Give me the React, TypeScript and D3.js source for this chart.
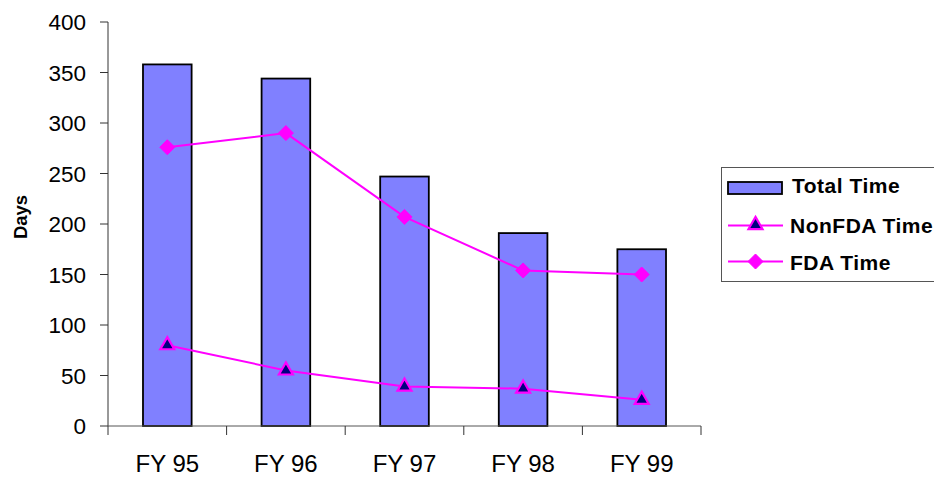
import React from "react";
import * as d3 from "d3";

const categories = ["FY 95", "FY 96", "FY 97", "FY 98", "FY 99"];
const totalTime = [358, 344, 247, 191, 175];
const nonFdaTime = [80, 55, 39, 37, 26];
const fdaTime = [276, 290, 207, 154, 150];
const yTicks = [0, 50, 100, 150, 200, 250, 300, 350, 400];

const W = 934;
const H = 478;
const left = 108;
const right = 701;
const top = 22;
const bottom = 426;

const FONT = "Arial, 'Liberation Sans', sans-serif";
const MAGENTA = "#FF00FF";
const BARFILL = "#8080FF";
const NAVY = "#000080";

function Diamond({ cx, cy, r = 7.5 }: { cx: number; cy: number; r?: number }) {
  const p = `M${cx},${cy - r}L${cx + r},${cy}L${cx},${cy + r}L${cx - r},${cy}Z`;
  return <path d={p} fill={MAGENTA} stroke={MAGENTA} strokeWidth={1} />;
}

function Triangle({ cx, cy }: { cx: number; cy: number }) {
  const sym = d3.symbol().type(d3.symbolTriangle).size(85)();
  return (
    <path
      d={sym || ""}
      transform={`translate(${cx},${cy})`}
      fill={NAVY}
      stroke={MAGENTA}
      strokeWidth={2.2}
    />
  );
}

export default function App() {
  const x = d3.scaleBand<string>().domain(categories).range([left, right]).padding(0);
  const y = d3.scaleLinear().domain([0, 400]).range([bottom, top]);
  const step = x.step();
  const barW = step * 0.41;
  const cx = (c: string) => (x(c) as number) + step / 2;

  const line = d3
    .line<[number, number]>()
    .x((d) => d[0])
    .y((d) => d[1]);

  const fdaPts: [number, number][] = categories.map((c, i) => [cx(c), y(fdaTime[i])]);
  const nonPts: [number, number][] = categories.map((c, i) => [cx(c), y(nonFdaTime[i])]);

  const boundaries = d3.range(categories.length + 1).map((i) => left + i * step);

  return (
    <svg
      width={W}
      height={H}
      style={{ position: "absolute", left: 0, top: 0, background: "#fff" }}
      fontFamily={FONT}
    >
      {/* bars */}
      {categories.map((c, i) => (
        <rect
          key={c}
          x={cx(c) - barW / 2}
          y={y(totalTime[i])}
          width={barW}
          height={y(0) - y(totalTime[i])}
          fill={BARFILL}
          stroke="#000"
          strokeWidth={1.8}
        />
      ))}

      {/* axes */}
      <line x1={left} x2={left} y1={top} y2={bottom} stroke="#333" strokeWidth={1} />
      <line x1={left} x2={right} y1={bottom} y2={bottom} stroke="#555" strokeWidth={1} />
      {yTicks.map((t) => (
        <g key={t}>
          <line x1={left - 8} x2={left} y1={y(t)} y2={y(t)} stroke="#333" strokeWidth={1} />
          <text x={86} y={y(t) + 8} textAnchor="end" fontSize={22.5} fill="#000">
            {t}
          </text>
        </g>
      ))}
      {boundaries.map((b, i) => (
        <line key={i} x1={b} x2={b} y1={bottom} y2={bottom + 9} stroke="#333" strokeWidth={1} />
      ))}
      {categories.map((c) => (
        <text key={c} x={cx(c)} y={472} textAnchor="middle" fontSize={24} fill="#000">
          {c}
        </text>
      ))}
      <text
        transform={`translate(27,217) rotate(-90)`}
        textAnchor="middle"
        fontSize={18.5}
        fontWeight="bold"
        fill="#000"
      >
        Days
      </text>

      {/* lines */}
      <path d={line(nonPts) || ""} fill="none" stroke={MAGENTA} strokeWidth={2} />
      <path d={line(fdaPts) || ""} fill="none" stroke={MAGENTA} strokeWidth={2} />
      {nonPts.map((p, i) => (
        <Triangle key={i} cx={p[0]} cy={p[1]} />
      ))}
      {fdaPts.map((p, i) => (
        <Diamond key={i} cx={p[0]} cy={p[1]} />
      ))}

      {/* legend */}
      <rect x={721.5} y={167.5} width={230} height={114} fill="#fff" stroke="#555" strokeWidth={1} />
      <rect x={728} y={182} width={54} height={12} fill={BARFILL} stroke="#000" strokeWidth={1.8} />
      <text x={792} y={193} fontSize={21} fontWeight="bold" letterSpacing={0.5} fill="#000">
        Total Time
      </text>
      <line x1={728} x2={783} y1={225.5} y2={225.5} stroke={MAGENTA} strokeWidth={2} />
      <Triangle cx={755.5} cy={225} />
      <text x={790} y={233} fontSize={21} fontWeight="bold" letterSpacing={0.5} fill="#000">
        NonFDA Time
      </text>
      <line x1={728} x2={783} y1={261.5} y2={261.5} stroke={MAGENTA} strokeWidth={2} />
      <Diamond cx={755.5} cy={261.5} />
      <text x={790} y={270} fontSize={21} fontWeight="bold" letterSpacing={0.5} fill="#000">
        FDA Time
      </text>
    </svg>
  );
}
